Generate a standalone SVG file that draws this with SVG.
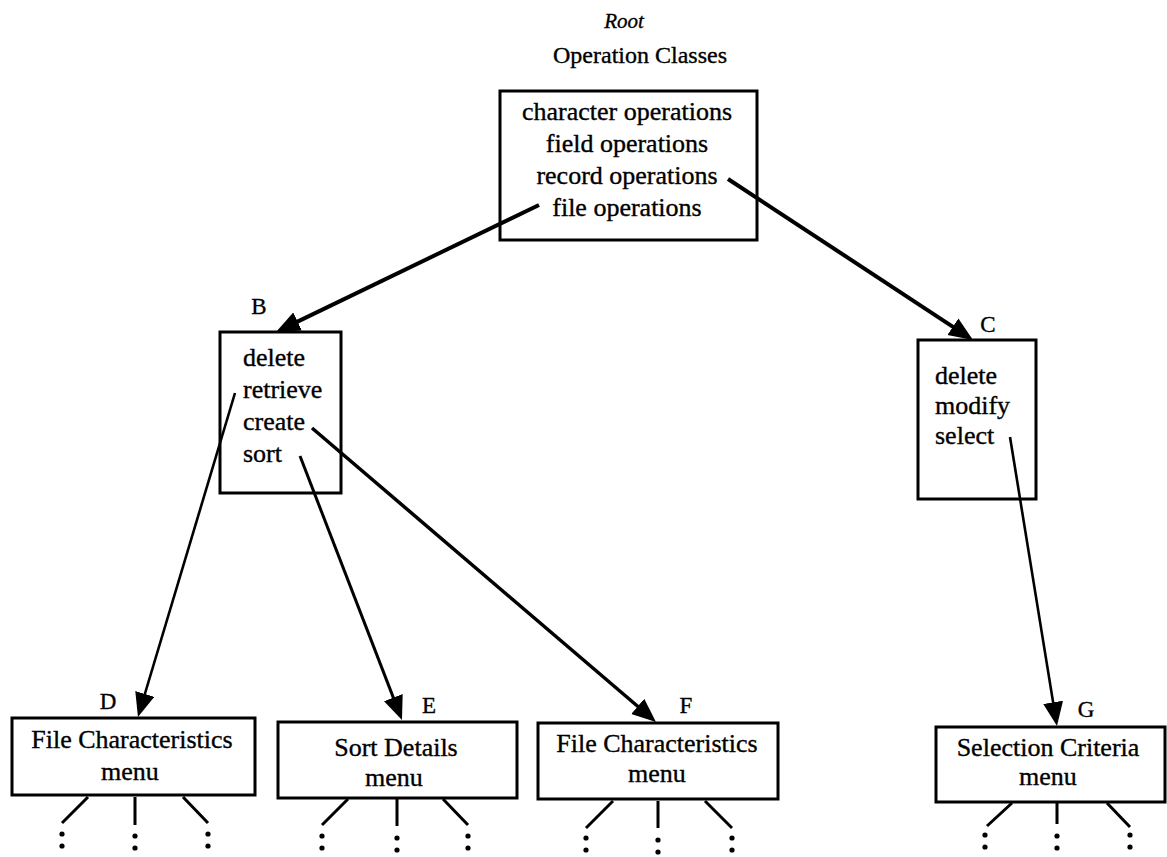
<svg xmlns="http://www.w3.org/2000/svg" width="1167" height="857" viewBox="0 0 1167 857">
<style>
text{font-family:"Liberation Serif","Times New Roman",serif;fill:#000;stroke:#000;stroke-width:0.35}
.t{font-size:26px}
.lbl{font-size:23px}
.box{fill:#fff;stroke:#000;stroke-width:3}
.arr{stroke:#000;fill:none}
.tick{stroke:#000;stroke-width:3;fill:none}
.dot{fill:#000}
</style>
<defs>
<marker id="ah" markerUnits="userSpaceOnUse" markerWidth="26" markerHeight="22" refX="11" refY="10" orient="auto" viewBox="0 0 26 22">
<path d="M0,0 L24,10 L0,20 z" fill="#000"/>
</marker>
</defs>
<rect width="1167" height="857" fill="#fff"/>

<g id="root">
<text x="624" y="28" font-size="21" font-style="italic" text-anchor="middle">Root</text>
<text x="640" y="63" font-size="24" text-anchor="middle">Operation Classes</text>
<rect class="box" x="500" y="91" width="257" height="149"/>
<text class="t" x="627" y="120" text-anchor="middle">character operations</text>
<text class="t" x="627" y="152" text-anchor="middle">field operations</text>
<text class="t" x="627" y="184" text-anchor="middle">record operations</text>
<text class="t" x="627" y="216" text-anchor="middle">file operations</text>
</g>

<g id="nodeB">
<text class="lbl" x="259" y="314" text-anchor="middle">B</text>
<rect class="box" x="220" y="332" width="121" height="161"/>
<text class="t" x="243" y="366">delete</text>
<text class="t" x="243" y="398">retrieve</text>
<text class="t" x="243" y="430">create</text>
<text class="t" x="243" y="462">sort</text>
</g>

<g id="nodeC">
<text class="lbl" x="988" y="332" text-anchor="middle">C</text>
<rect class="box" x="918" y="340" width="118" height="159"/>
<text class="t" x="935" y="384">delete</text>
<text class="t" x="935" y="414">modify</text>
<text class="t" x="935" y="444">select</text>
</g>

<g id="nodeD">
<text class="lbl" x="108" y="709" text-anchor="middle">D</text>
<rect class="box" x="12" y="718" width="243" height="77"/>
<text class="t" x="132" y="748" text-anchor="middle">File Characteristics</text>
<text class="t" x="130" y="780" text-anchor="middle">menu</text>
<path class="tick" d="M88,797 L62,823 M135,797 L135,825 M183,797 L208,823"/>
<circle class="dot" cx="62" cy="834" r="2.6"/><circle class="dot" cx="62" cy="846" r="2.6"/>
<circle class="dot" cx="135" cy="836" r="2.6"/><circle class="dot" cx="135" cy="848" r="2.6"/>
<circle class="dot" cx="208" cy="834" r="2.6"/><circle class="dot" cx="208" cy="846" r="2.6"/>
</g>

<g id="nodeE">
<text class="lbl" x="429" y="713" text-anchor="middle">E</text>
<rect class="box" x="278" y="722" width="239" height="76"/>
<text class="t" x="396" y="756" text-anchor="middle">Sort Details</text>
<text class="t" x="394" y="786" text-anchor="middle">menu</text>
<path class="tick" d="M348,799 L322,825 M397,799 L397,826 M443,799 L468,825"/>
<circle class="dot" cx="322" cy="836" r="2.6"/><circle class="dot" cx="322" cy="848" r="2.6"/>
<circle class="dot" cx="397" cy="838" r="2.6"/><circle class="dot" cx="397" cy="850" r="2.6"/>
<circle class="dot" cx="468" cy="836" r="2.6"/><circle class="dot" cx="468" cy="848" r="2.6"/>
</g>

<g id="nodeF">
<text class="lbl" x="686" y="713" text-anchor="middle">F</text>
<rect class="box" x="538" y="723" width="240" height="76"/>
<text class="t" x="657" y="752" text-anchor="middle">File Characteristics</text>
<text class="t" x="657" y="782" text-anchor="middle">menu</text>
<path class="tick" d="M613,801 L586,828 M658,801 L658,828 M705,801 L732,828"/>
<circle class="dot" cx="586" cy="838" r="2.6"/><circle class="dot" cx="586" cy="850" r="2.6"/>
<circle class="dot" cx="658" cy="840" r="2.6"/><circle class="dot" cx="658" cy="852" r="2.6"/>
<circle class="dot" cx="732" cy="838" r="2.6"/><circle class="dot" cx="732" cy="850" r="2.6"/>
</g>

<g id="nodeG">
<text class="lbl" x="1086" y="717" text-anchor="middle">G</text>
<rect class="box" x="936" y="727" width="229" height="75"/>
<text class="t" x="1048" y="756" text-anchor="middle">Selection Criteria</text>
<text class="t" x="1048" y="785" text-anchor="middle">menu</text>
<path class="tick" d="M1012,803 L987,826 M1057,803 L1057,824 M1107,803 L1130,827"/>
<circle class="dot" cx="985" cy="835" r="2.6"/><circle class="dot" cx="985" cy="847" r="2.6"/>
<circle class="dot" cx="1057" cy="836" r="2.6"/><circle class="dot" cx="1057" cy="848" r="2.6"/>
<circle class="dot" cx="1130" cy="835" r="2.6"/><circle class="dot" cx="1130" cy="847" r="2.6"/>
</g>

<g id="connectors">
<line class="arr" x1="539" y1="205" x2="287.7" y2="326.4" stroke-width="4" marker-end="url(#ah)"/>
<line class="arr" x1="728" y1="179" x2="962.1" y2="332.8" stroke-width="4" marker-end="url(#ah)"/>
<line class="arr" x1="235" y1="393" x2="141.7" y2="704.5" stroke-width="2.6" marker-end="url(#ah)"/>
<line class="arr" x1="300" y1="456" x2="397.3" y2="707.9" stroke-width="3" marker-end="url(#ah)"/>
<line class="arr" x1="312" y1="428" x2="646.1" y2="713.5" stroke-width="3.5" marker-end="url(#ah)"/>
<line class="arr" x1="1010" y1="437" x2="1054.9" y2="713.2" stroke-width="2.6" marker-end="url(#ah)"/>
</g>
</svg>
